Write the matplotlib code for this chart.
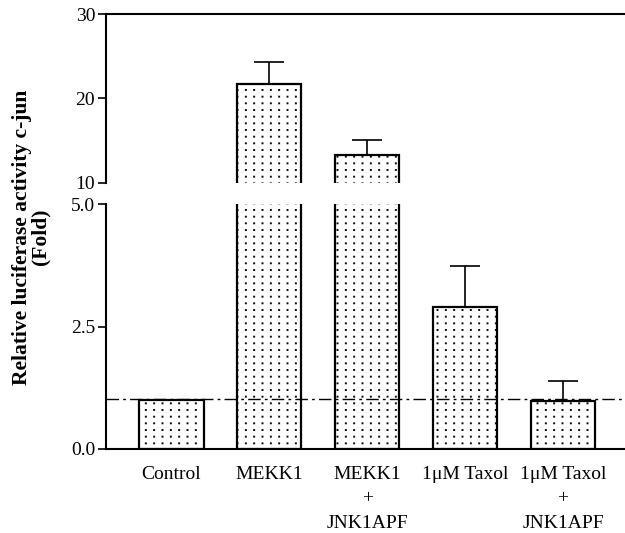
import numpy as np
import matplotlib
matplotlib.use("Agg")
import matplotlib.pyplot as plt
from matplotlib import hatch as mhatch
from matplotlib.path import Path

plt.rcParams['font.family'] = ['Liberation Serif', 'DejaVu Serif']
plt.rcParams['hatch.linewidth'] = 0.8

labels = ["Control", "MEKK1", "MEKK1\n+\nJNK1APF", "1\u03bcM Taxol", "1\u03bcM Taxol\n+\nJNK1APF"]
values = [1.0, 21.7, 13.3, 2.9, 0.98]
errors = [0.0, 2.6, 1.8, 0.83, 0.41]
baseline = 1.02


# square grid of dots instead of the staggered '.' hatch
class DotGrid(mhatch.HatchPatternBase):
    ncols, nrows = 12, 15

    def __init__(self, hatch, density):
        self.on = hatch.count('.') > 0
        self.num_vertices = 5 * self.ncols * self.nrows if self.on else 0

    def set_vertices_and_codes(self, vertices, codes):
        s = 0.004
        k = 0
        for i in range(self.ncols):
            for j in range(self.nrows):
                cx = (i + 0.5) / self.ncols
                cy = (j + 0.5) / self.nrows
                vertices[k:k + 5] = [[cx - s, cy - s], [cx + s, cy - s], [cx + s, cy + s],
                                     [cx - s, cy + s], [cx - s, cy - s]]
                codes[k] = Path.MOVETO
                codes[k + 1:k + 4] = Path.LINETO
                codes[k + 4] = Path.CLOSEPOLY
                k += 5


mhatch._hatch_types = [t for t in mhatch._hatch_types if t is not mhatch.SmallFilledCircles] + [DotGrid]

x = np.arange(len(labels))

fig = plt.figure(figsize=(6.25, 5.33), dpi=100)
ax_top = fig.add_axes([0.17, 0.6567, 0.83, 0.317])
ax_bot = fig.add_axes([0.17, 0.1576, 0.83, 0.4594])

for ax in (ax_top, ax_bot):
    ax.bar(x, values, width=0.66, color='white', edgecolor='black',
           linewidth=1.6, hatch='.', zorder=2)
    ax.errorbar(x, values, yerr=[np.zeros(len(errors)), errors], fmt='none',
                ecolor='black', elinewidth=1.2, capsize=11, capthick=1.2, zorder=3)
    ax.set_xlim(-0.663, 4.633)
    ax.spines['right'].set_visible(False)
    ax.tick_params(axis='y', direction='out', length=6, width=1.2, labelsize=14, pad=2)
    ax.spines['left'].set_linewidth(1.5)

# upper part of the broken axis
ax_top.set_ylim(10, 30)
ax_top.set_yticks([10, 20, 30])
ax_top.spines['bottom'].set_visible(False)
ax_top.spines['top'].set_linewidth(1.5)
ax_top.set_xticks([])

# lower part
ax_bot.set_ylim(0, 5.0)
ax_bot.set_yticks([0, 2.5, 5.0])
ax_bot.set_yticklabels(["0.0", "2.5", "5.0"])
ax_bot.spines['top'].set_visible(False)
ax_bot.spines['bottom'].set_linewidth(1.5)
ax_bot.axhline(baseline, color='black', lw=1.0, linestyle=(0, (9, 3, 2, 3)), zorder=4)
ax_bot.set_xticks(x)
ax_bot.set_xticklabels(labels, fontsize=14, linespacing=1.6, va='top')
ax_bot.tick_params(axis='x', length=0, pad=12)

fig.text(0.05, 0.555, "Relative luciferase activity c-jun\n(Fold)", rotation=90,
         ha='center', va='center', fontsize=15.5, fontweight='bold', linespacing=0.95)

fig.savefig("out.png", dpi=100)
